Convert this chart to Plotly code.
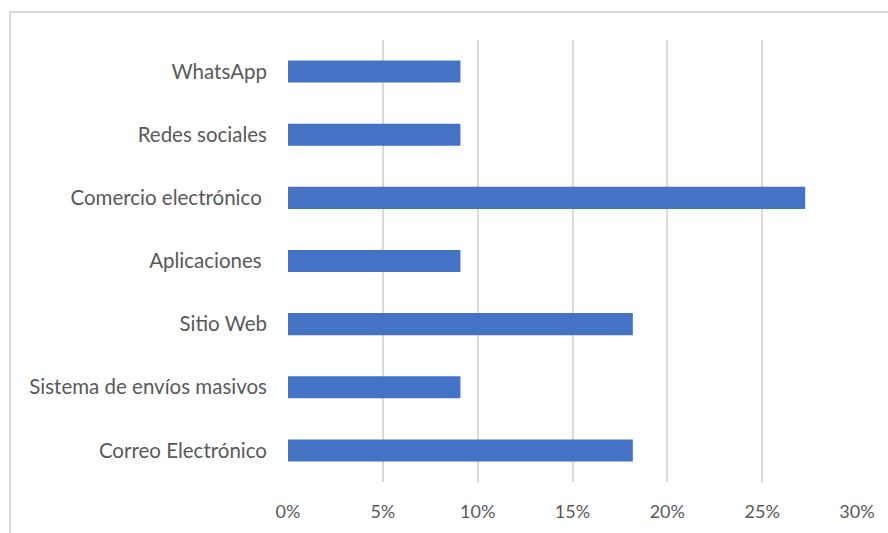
import plotly.graph_objects as go

# Channels, listed bottom to top as drawn on the category axis
channels = [
    "Correo Electrónico",
    "Sistema de envíos masivos",
    "Sitio Web",
    "Aplicaciones ",
    "Comercio electrónico ",
    "Redes sociales",
    "WhatsApp",
]
shares = [0.1818, 0.0909, 0.1818, 0.0909, 0.2727, 0.0909, 0.0909]

tick_vals = [0, 0.05, 0.10, 0.15, 0.20, 0.25, 0.30]
tick_text = ["0%", "5%", "10%", "15%", "20%", "25%", "30%"]

FONT = "Lato, 'Open Sans', sans-serif"
TEXT = "#595959"

fig = go.Figure(
    go.Bar(
        x=shares,
        y=channels,
        orientation="h",
        marker=dict(color="#4472C4", line=dict(width=0)),
        hoverinfo="x+y",
    )
)

fig.update_layout(
    width=888,
    height=533,
    margin=dict(l=288, r=31, t=40, b=51),
    paper_bgcolor="white",
    plot_bgcolor="white",
    bargap=0.65,
    showlegend=False,
    font=dict(family=FONT, size=17, color=TEXT),
    shapes=[
        dict(
            type="rect",
            xref="paper",
            yref="paper",
            x0=-0.4886,
            x1=1.3,
            y0=-0.3,
            y1=1.0633,
            line=dict(color="#d9d9d9", width=2),
            fillcolor="rgba(0,0,0,0)",
            layer="below",
        )
    ],
)

fig.update_xaxes(
    range=[0, 0.30],
    tickvals=tick_vals,
    ticktext=tick_text,
    showgrid=True,
    gridcolor="#d9d9d9",
    gridwidth=2,
    zeroline=False,
    showline=False,
    ticks="",
    tickfont=dict(family=FONT, size=18, color=TEXT),
    ticklabelstandoff=17,
)

fig.update_yaxes(
    categoryorder="array",
    categoryarray=channels,
    showgrid=False,
    zeroline=False,
    showline=False,
    ticks="",
    ticklabelstandoff=20,
    tickfont=dict(family=FONT, size=20.5, color=TEXT),
)

fig.write_html("out.html")
